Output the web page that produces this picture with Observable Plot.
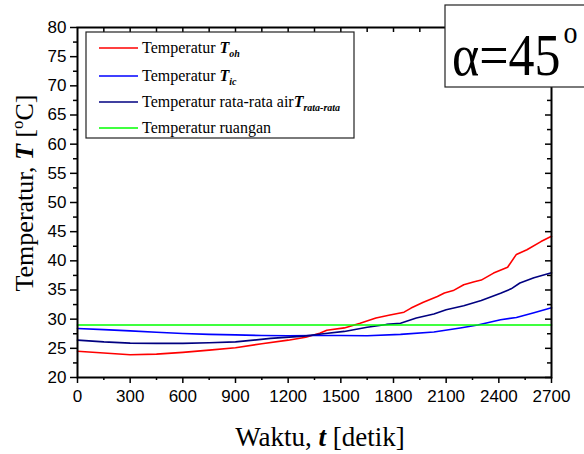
<!DOCTYPE html>
<html><head><meta charset="utf-8">
<script src="https://cdn.jsdelivr.net/npm/d3@7"></script>
<script src="https://cdn.jsdelivr.net/npm/@observablehq/plot@0.6"></script>
<style>body{margin:0;background:#fff} svg{display:block}</style>
</head><body><div id="chart"></div>
<script>
// ---- data ----
const xTicks = [0, 300, 600, 900, 1200, 1500, 1800, 2100, 2400, 2700];
const yTicks = [20, 25, 30, 35, 40, 45, 50, 55, 60, 65, 70, 75, 80];

const ohTime = [0,150,300,450,600,750,900,1050,1200,1300,1380,1420,1520,1610,1700,1780,1860,1900,1970,2050,2090,2140,2200,2260,2300,2370,2450,2500,2560,2640,2700];
const ohTemp = [24.5,24.2,23.9,24.0,24.3,24.7,25.1,25.8,26.4,26.9,27.6,28.1,28.5,29.3,30.2,30.7,31.2,31.9,32.9,33.9,34.5,34.9,35.9,36.4,36.7,37.9,38.9,41.1,41.9,43.3,44.2];

const icTime = [0,150,300,450,600,750,900,1050,1200,1350,1500,1650,1840,2030,2180,2280,2410,2500,2600,2700];
const icTemp = [28.4,28.2,28.0,27.75,27.55,27.4,27.3,27.2,27.15,27.2,27.2,27.15,27.4,27.8,28.5,29.0,29.9,30.3,31.1,31.95];

const avgTime = [0,150,300,450,600,750,900,1100,1290,1400,1520,1650,1760,1840,1930,2030,2100,2200,2300,2410,2470,2520,2600,2700];
const avgTemp = [26.4,26.1,25.9,25.85,25.85,25.95,26.1,26.7,27.1,27.5,27.9,28.6,29.1,29.3,30.2,30.9,31.6,32.3,33.2,34.45,35.2,36.2,37.1,37.95];

const roomTime = [0, 2700];
const roomTemp = [29, 29];

const seriesColors = ["#ff0000", "#0000ff", "#000080", "#00ff00"];

const toRows = (ts, vs) => ts.map((t, i) => ({t, v: vs[i]}));
const rows = [toRows(ohTime, ohTemp), toRows(icTime, icTemp), toRows(avgTime, avgTemp), toRows(roomTime, roomTemp)];

const xMinor = d3.range(150, 2700, 300);
const xTop = d3.range(150, 2700, 150);
const yMinor = d3.range(22.5, 80, 5);

const W = 584, H = 454, mL = 77, mR = 33, mT = 27, mB = 77;
const pw = W - mL - mR, ph = H - mT - mB;

const plot = Plot.plot({
  width: W, height: H, marginLeft: mL, marginRight: mR, marginTop: mT, marginBottom: mB,
  x: {domain: [0, 2700]},
  y: {domain: [20, 80]},
  style: {fontFamily: "'Liberation Sans', Arial, sans-serif", fontSize: "17px", background: "white", color: "black"},
  marks: [
    Plot.axisX({ticks: xTicks, tickSize: 6, tickPadding: 6, strokeWidth: 1.5, label: null, tickFormat: d3.format("d"), fontSize: 17}),
    Plot.axisX({ticks: xMinor, tickSize: 3, strokeWidth: 1.5, text: null, label: null}),
    Plot.axisY({ticks: yTicks, tickSize: 7, tickPadding: 4, strokeWidth: 1.5, label: null, tickFormat: d3.format("d"), fontSize: 17}),
    Plot.axisY({ticks: yMinor, tickSize: 4, strokeWidth: 1.5, text: null, label: null}),
    Plot.ruleX(xTop, {x: d => d, stroke: "black", strokeWidth: 1.5, insetBottom: ph - 5}),
    Plot.ruleY(yTicks, {y: d => d, stroke: "black", strokeWidth: 1.5, insetLeft: pw - 6}),
    Plot.ruleY(yMinor, {y: d => d, stroke: "black", strokeWidth: 1.5, insetLeft: pw - 4}),
    ...rows.map((r, i) => Plot.line(r, {x: "t", y: "v", stroke: seriesColors[i], strokeWidth: 1.6})),
    Plot.frame({stroke: "black", strokeWidth: 2})
  ]
});

document.getElementById("chart").append(plot);

// ---- annotations: legend, labels, angle box ----
const svg = d3.select(plot);
const serif = "'Liberation Serif', 'Times New Roman', serif";

// legend
const lg = svg.append("g").attr("font-family", serif).attr("font-size", 16).attr("fill", "black").attr("text-anchor", "start");
lg.append("rect").attr("x", 86).attr("y", 32).attr("width", 268).attr("height", 106)
  .attr("fill", "white").attr("stroke", "#222").attr("stroke-width", 1.2);
const rowsY = [48, 76, 102, 128];
const legendText = [
  [["Temperatur ", {}], ["T", {b: 1}], ["oh", {sub: 1}]],
  [["Temperatur ", {}], ["T", {b: 1}], ["ic", {sub: 1}]],
  [["Temperatur rata-rata air", {}], ["T", {b: 1}], ["rata-rata", {sub: 1}]],
  [["Temperatur ruangan", {}]]
];
rowsY.forEach((y, i) => {
  lg.append("line").attr("x1", 99).attr("x2", 138).attr("y1", y).attr("y2", y)
    .attr("stroke", seriesColors[i]).attr("stroke-width", 1.6);
  const t = lg.append("text").attr("x", 142).attr("y", y + 5).attr("text-anchor", "start");
  legendText[i].forEach(([s, o]) => {
    const sp = t.append("tspan").text(s);
    if (o.b) sp.attr("font-weight", "bold").attr("font-style", "italic");
    if (o.sub) sp.attr("font-weight", "bold").attr("font-style", "italic").attr("font-size", 10).attr("dy", 4);
  });
});

// x label
const xl = svg.append("text").attr("x", 320).attr("y", 446).attr("text-anchor", "middle")
  .attr("font-family", serif).attr("font-size", 27).attr("fill", "black");
xl.append("tspan").text("Waktu, ");
xl.append("tspan").text("t").attr("font-weight", "bold").attr("font-style", "italic");
xl.append("tspan").text(" [detik]");

// y label
const yl = svg.append("text").attr("transform", "translate(33,193) rotate(-90)").attr("text-anchor", "middle")
  .attr("font-family", serif).attr("font-size", 26).attr("fill", "black");
yl.append("tspan").text("Temperatur, ");
yl.append("tspan").text("T").attr("font-weight", "bold").attr("font-style", "italic");
yl.append("tspan").text(" [");
yl.append("tspan").text("o").attr("font-size", 17).attr("dy", -10);
yl.append("tspan").text("C]").attr("dy", 10);

// angle box
const ab = svg.append("g");
ab.append("rect").attr("x", 445).attr("y", 5).attr("width", 150).attr("height", 82)
  .attr("fill", "white").attr("stroke", "#222").attr("stroke-width", 1.2);
const at = ab.append("text").attr("transform", "translate(452,75) scale(1,1.15)").attr("text-anchor", "start")
  .attr("font-family", serif).attr("font-size", 52).attr("fill", "black");
at.append("tspan").text("\u03b1=45");
at.append("tspan").text("o").attr("font-size", 28).attr("dy", -28).attr("dx", 3);
</script>
</body></html>
